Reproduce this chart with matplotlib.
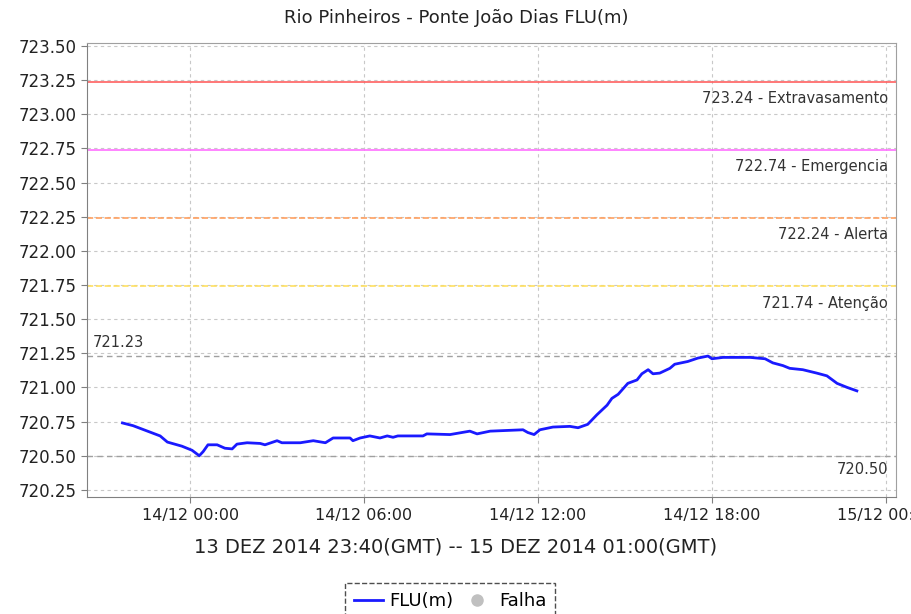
import numpy as np
import pandas as pd
import matplotlib
matplotlib.use("Agg")
import matplotlib.pyplot as plt
import matplotlib.dates as mdates
import matplotlib.transforms as mtransforms
from matplotlib.lines import Line2D

# series (hour, value in m)
horas = ["2014-12-13 21:40", "2014-12-13 22:02", "2014-12-13 22:58", "2014-12-13 23:13",
         "2014-12-13 23:43", "2014-12-14 00:04", "2014-12-14 00:19", "2014-12-14 00:27",
         "2014-12-14 00:37", "2014-12-14 00:56", "2014-12-14 01:12", "2014-12-14 01:27",
         "2014-12-14 01:37", "2014-12-14 01:58", "2014-12-14 02:25", "2014-12-14 02:35",
         "2014-12-14 03:00", "2014-12-14 03:10", "2014-12-14 03:48", "2014-12-14 04:15",
         "2014-12-14 04:40", "2014-12-14 04:56", "2014-12-14 05:31", "2014-12-14 05:37",
         "2014-12-14 05:52", "2014-12-14 06:12", "2014-12-14 06:33", "2014-12-14 06:48",
         "2014-12-14 07:00", "2014-12-14 07:10", "2014-12-14 08:02", "2014-12-14 08:10",
         "2014-12-14 08:58", "2014-12-14 09:39", "2014-12-14 09:54", "2014-12-14 10:21",
         "2014-12-14 11:29", "2014-12-14 11:39", "2014-12-14 11:52", "2014-12-14 12:04",
         "2014-12-14 12:31", "2014-12-14 13:06", "2014-12-14 13:23", "2014-12-14 13:43",
         "2014-12-14 14:02", "2014-12-14 14:23", "2014-12-14 14:33", "2014-12-14 14:46",
         "2014-12-14 15:06", "2014-12-14 15:25", "2014-12-14 15:35", "2014-12-14 15:48",
         "2014-12-14 15:58", "2014-12-14 16:12", "2014-12-14 16:33", "2014-12-14 16:43",
         "2014-12-14 17:10", "2014-12-14 17:31", "2014-12-14 17:52", "2014-12-14 18:00",
         "2014-12-14 18:23", "2014-12-14 19:19", "2014-12-14 19:50", "2014-12-14 20:06",
         "2014-12-14 20:27", "2014-12-14 20:41", "2014-12-14 21:08", "2014-12-14 21:37",
         "2014-12-14 21:58", "2014-12-14 22:19", "2014-12-14 22:40", "2014-12-14 23:00"]
nivel = [720.74, 720.72, 720.645, 720.60, 720.57, 720.54, 720.50, 720.53,
         720.58, 720.58, 720.555, 720.55, 720.585, 720.595, 720.59, 720.58,
         720.61, 720.595, 720.595, 720.61, 720.595, 720.63, 720.63, 720.61,
         720.63, 720.645, 720.63, 720.645, 720.635, 720.645, 720.645, 720.66,
         720.655, 720.68, 720.66, 720.68, 720.69, 720.67, 720.655, 720.69,
         720.71, 720.715, 720.705, 720.73, 720.80, 720.87, 720.92, 720.95,
         721.03, 721.055, 721.10, 721.13, 721.10, 721.105, 721.14, 721.17,
         721.19, 721.215, 721.23, 721.21, 721.22, 721.22, 721.21, 721.18,
         721.16, 721.14, 721.13, 721.105, 721.085, 721.03, 721.00, 720.975]

# cotas de referencia
cotas = [723.24, 722.74, 722.24, 721.74]
cotas_nomes = ["Extravasamento", "Emergencia", "Alerta", "Atenção"]
cotas_cores = ["#ff6060", "#ff70ff", "#ffa060", "#ffe060"]
cotas_estilos = ["-", "-", "--", "--"]

t = pd.to_datetime(horas)
vmax = max(nivel)
vmin = min(nivel)

fig = plt.figure(figsize=(9.12, 6.14), dpi=100)
ax = fig.add_axes([86.7/912, 1-496.7/614, (896-86.7)/912, (496.7-43.3)/614])

ax.set_xlim(pd.Timestamp("2014-12-13 20:26"), pd.Timestamp("2014-12-15 00:21"))
ax.set_ylim(720.20, 723.52)
ax.set_yticks(np.arange(720.25, 723.51, 0.25))
ax.yaxis.set_major_formatter(plt.FormatStrFormatter("%.2f"))
ax.xaxis.set_major_locator(mdates.HourLocator(byhour=[0, 6, 12, 18]))
ax.xaxis.set_major_formatter(mdates.DateFormatter("%d/%m %H:%M"))

ax.grid(True, color="#c8c8c8", linestyle=(0, (3, 3)), linewidth=0.8)
ax.set_axisbelow(True)
for s in ax.spines.values():
    s.set_color("#a0a0a0")
ax.spines["left"].set_color("#808080")
ax.spines["bottom"].set_color("#808080")
ax.tick_params(axis="both", colors="#808080", labelcolor="#222222", length=4)
ax.tick_params(axis="y", labelsize=12)
ax.tick_params(axis="x", labelsize=11.5, pad=4)

trans = mtransforms.blended_transform_factory(ax.transAxes, ax.transData)
for c, nome, cor, ls in zip(cotas, cotas_nomes, cotas_cores, cotas_estilos):
    ax.axhline(c, color=cor, linestyle=ls, linewidth=1.2)
    ax.annotate("%.2f - %s" % (c, nome), xy=(0.99, c), xycoords=trans,
                xytext=(0, -12), textcoords="offset points",
                ha="right", va="center", fontsize=10.5, color="#333333")

ax.axhline(vmax, color="#a0a0a0", linestyle=(0, (4, 3)), linewidth=1)
ax.annotate("%.2f" % vmax, xy=(0.007, vmax), xycoords=trans,
            xytext=(0, 10), textcoords="offset points",
            ha="left", va="center", fontsize=10.5, color="#333333")
ax.axhline(vmin, color="#a0a0a0", linestyle=(0, (4, 3)), linewidth=1)
ax.annotate("%.2f" % vmin, xy=(0.99, vmin), xycoords=trans,
            xytext=(0, -10), textcoords="offset points",
            ha="right", va="center", fontsize=10.5, color="#333333")

ax.plot(t, nivel, color="#1a1aff", linewidth=2)

fig.text(0.5, 1-18/614, "Rio Pinheiros - Ponte João Dias FLU(m)",
         ha="center", va="center", fontsize=13, color="#222222")
fig.text(0.5, 1-547/614, "13 DEZ 2014 23:40(GMT) -- 15 DEZ 2014 01:00(GMT)",
         ha="center", va="center", fontsize=14, color="#222222")

handles = [Line2D([], [], color="#1a1aff", linewidth=2),
           Line2D([], [], color="#c0c0c0", marker="o", linestyle="none", markersize=8)]
leg = fig.legend(handles, ["FLU(m)", "Falha"], loc="upper center",
                 bbox_to_anchor=(450/912, 1-574/614), ncol=2, fontsize=13,
                 frameon=True, fancybox=False, handlelength=1.6, handletextpad=0.4,
                 columnspacing=0.5, borderpad=0.5)
fr = leg.get_frame()
fr.set_edgecolor("#222222")
fr.set_linestyle("--")
fr.set_linewidth(1)

fig.savefig("out.png", dpi=100)
